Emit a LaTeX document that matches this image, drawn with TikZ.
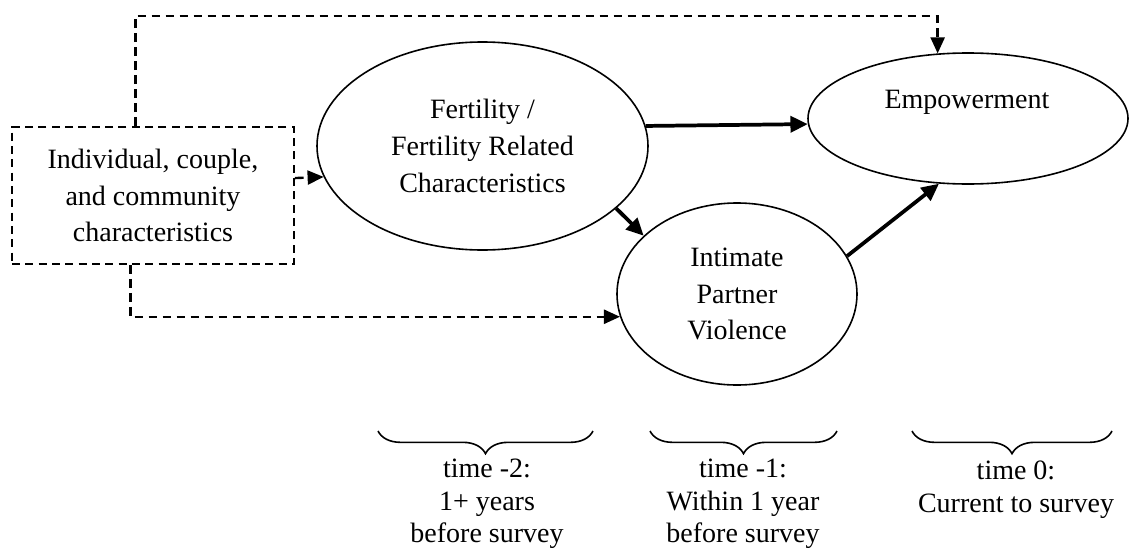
\documentclass[tikz,border=0pt]{standalone}
\usepackage{fontspec}
\setmainfont{Liberation Serif}
\usetikzlibrary{shapes.geometric}
\usetikzlibrary{arrows.meta}
\usetikzlibrary{decorations.pathreplacing}

\begin{document}
\begin{tikzpicture}[x=0.75pt,y=0.75pt,yscale=-1,xscale=1,
  every node/.style={font=\fontsize{21}{27.5}\selectfont},
  oval/.style={draw,ellipse,line width=1.2pt,inner sep=0pt,align=center},
  factorbox/.style={draw,rectangle,line width=1.4pt,dash pattern=on 6pt off 4pt,inner sep=0pt,align=center},
  solidlink/.style={line width=2.8pt,-{Triangle[length=13pt,width=12pt]}},
  dashlink/.style={line width=1.8pt,dash pattern=on 6.5pt off 4pt,-{Triangle[length=12pt,width=10.5pt]}},
  timebrace/.style={line width=1.2pt,decorate,decoration={brace,amplitude=17pt,mirror}},
  timelabel/.style={align=center,font=\fontsize{21}{24.5}\selectfont}]
		\useasboundingbox (0,0) rectangle (1136,550);

		%Shape: Rectangle
		\node [factorbox,minimum width=211.5pt,minimum height=102.75pt] (box) at (153,195.5) {Individual, couple,\\and community\\characteristics};
		%Shape: Ellipse
		\node [oval,minimum width=248.25pt,minimum height=156pt] (fert) at (482.5,146) {Fertility /\\Fertility Related\\Characteristics};
		%Shape: Ellipse
		\node [oval,minimum width=240pt,minimum height=98.25pt] (emp) at (968,118.5) {};
		%Shape: Ellipse
		\node [oval,minimum width=180pt,minimum height=136.5pt] (ipv) at (737,294) {Intimate\\Partner\\Violence};

		% Text Node
		\node (emptext) at (967,102) {Empowerment};

		%Straight Lines
		\draw [solidlink] (fert.7) -- (emp.182);
		\draw [solidlink] (fert.-25.8) -- (ipv.148.8);
		\draw [solidlink] (ipv.19) -- (emp.-114);

		%Dashed Lines
		\draw [dashlink] (box.104) -- ++(0,-110) -| (emp.115);
		\draw [dashlink] (box.7) -- (fert.191.5);
		\draw [dashlink] (box.-108.6) |- (ipv.191.7);

		%Braces
		\draw [timebrace] (378,431) -- (593,431);
		\draw [timebrace] (650,431) -- (837,431);
		\draw [timebrace] (912,431) -- (1112,431);

		% Text Node
		\node [timelabel] (tmtwo) at (487,504) {time -2:\\1+ years\\before survey};
		% Text Node
		\node [timelabel] (tmone) at (743,504) {time -1:\\Within 1 year\\before survey};
		% Text Node
		\node [timelabel] (tzero) at (1016,490) {time 0:\\Current to survey};

\end{tikzpicture}
\end{document}
